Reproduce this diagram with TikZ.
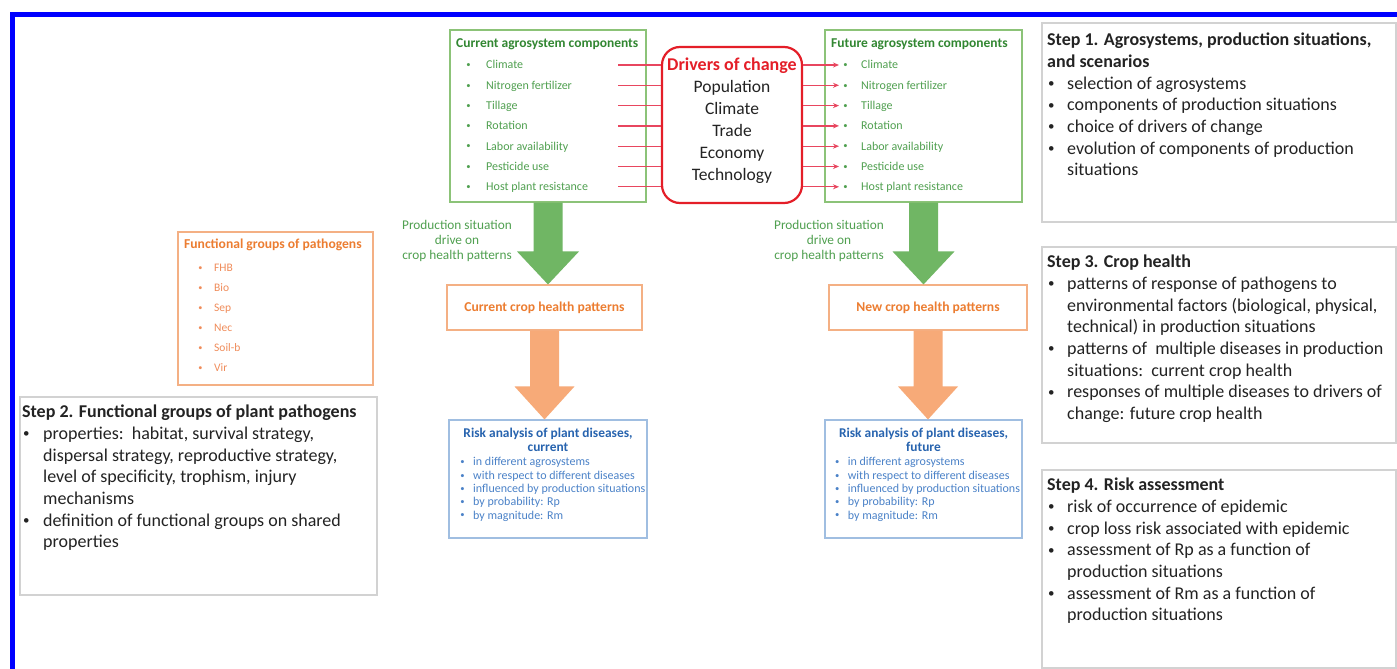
\documentclass[tikz,border=0pt]{standalone}
\usepackage{fontspec}
\setmainfont{Carlito}
\usetikzlibrary{arrows.meta,calc}
\definecolor{gline}{RGB}{140,195,120}
\definecolor{gtitle}{RGB}{50,135,50}
\definecolor{gtext}{RGB}{80,160,80}
\definecolor{garrow}{RGB}{112,182,100}
\definecolor{dred}{RGB}{228,30,40}
\definecolor{rline}{RGB}{232,70,95}
\definecolor{oline}{RGB}{244,176,132}
\definecolor{otext}{RGB}{236,125,49}
\definecolor{oitem}{RGB}{240,140,90}
\definecolor{oarrow}{RGB}{247,170,120}
\definecolor{bline}{RGB}{160,190,225}
\definecolor{btitle}{RGB}{40,100,175}
\definecolor{bitem}{RGB}{75,130,200}
\definecolor{sline}{RGB}{210,210,210}
\definecolor{tblack}{RGB}{35,35,35}
\definecolor{frameblue}{RGB}{0,0,255}
\newlength\bulw
\newcommand\bu{\makebox[\bulw][l]{\hspace*{0.05em}\raisebox{0.09em}{\scalebox{0.72}{\textbullet}}}}
\newcommand\indt{\hspace*{\bulw}}
\newcommand\st{\rule{0pt}{0.8em}}
\newcommand\bigarrow[5]{%
  \coordinate (tip) at (#1.south |- #2.north);
  \fill[#3] ($(#1.south)+(-14.5,0)$) -- ($(#1.south)+(14.5,0)$) -- ($(tip)+(14.5,-#4)$) -- ($(tip)+(#5,-#4)$) -- (tip) -- ($(tip)+(-#5,-#4)$) -- ($(tip)+(-14.5,-#4)$) -- cycle;}
\begin{document}
\begin{tikzpicture}[x=1pt,y=-1pt,
  frame/.style={draw=#1, line width=1.1, fill=white, inner sep=0},
  txt/.style={inner sep=0, align=left, anchor=north west},
  ctxt/.style={inner sep=0, align=center, anchor=north},
  redln/.style={draw=rline, line width=1.3},
  redarr/.style={draw=rline, line width=1.3, -{Stealth[length=6pt,width=5pt]}},
  stepfont/.style={font=\fontsize{18}{21.7}\selectfont\setlength\bulw{20pt}, text=tblack}]
\useasboundingbox (0,0) rectangle (1397,669);
\clip (0,0) rectangle (1397,669);
\fill[white] (0,0) rectangle (1397,669);
% blue frame
\draw[frameblue, line width=5] (12.5,672) -- (12.5,14.5) -- (1400,14.5);

% connector end points
\foreach \i/\yy in {1/65,2/85.3,3/105.6,4/125.9,5/146.2,6/166.5,7/186.8}{
  \coordinate (cl\i) at (618,\yy);
  \coordinate (fr\i) at (839,\yy);
}

% boxes
\node[frame=gline, minimum width=196, minimum height=172] (cur) at (548,116) {};
\node[frame=gline, minimum width=197, minimum height=172] (fut) at (923.5,116) {};
\node[frame=dred, line width=2.2, rounded corners=18, minimum width=140, minimum height=156] (drv) at (732,125) {};
\node[frame=oline, minimum width=195, minimum height=45, font=\fontsize{13.6}{15}\selectfont\bfseries, text=otext] (curch) at (544.5,307.5) {Current crop health patterns};
\node[frame=oline, minimum width=198, minimum height=45, font=\fontsize{13.6}{15}\selectfont\bfseries, text=otext] (newch) at (928,307.5) {New crop health patterns};
\node[frame=bline, minimum width=198, minimum height=118] (riskc) at (548,479) {};
\node[frame=bline, minimum width=197, minimum height=118] (riskf) at (923.5,479) {};
\node[frame=oline, minimum width=195, minimum height=153] (fg) at (275.5,308.5) {};
\node[frame=sline, minimum width=357, minimum height=198] (s2) at (198.5,496) {};
\node[frame=sline, minimum width=354, minimum height=199] (s1) at (1219,122.5) {};
\node[frame=sline, minimum width=354, minimum height=196] (s3) at (1219,345) {};
\node[frame=sline, minimum width=354, minimum height=198] (s4) at (1219,569) {};

\foreach \i in {1,...,7}{
  \draw[redln] (cl\i) -- (cl\i -| drv.west);
  \draw[redarr] (drv.east |- fr\i) -- (fr\i);
}

% current agrosystem components
\node[txt, font=\fontsize{13.5}{15}\selectfont\bfseries, text=gtitle] (curT) at (456,36.2) {\st Current agrosystem components};
\node[txt, font=\fontsize{12}{20.3}\selectfont\setlength\bulw{20.5pt}, text=gtext] (curL) at (465.5,59) {\st\bu Climate\\\bu Nitrogen fertilizer\\\bu Tillage\\\bu Rotation\\\bu Labor availability\\\bu Pesticide use\\\bu Host plant resistance};
% future agrosystem components
\node[txt, font=\fontsize{13.5}{15}\selectfont\bfseries, text=gtitle] (futT) at (831,36.2) {\st Future agrosystem components};
\node[txt, font=\fontsize{12}{20.3}\selectfont\setlength\bulw{18.5pt}, text=gtext] (futL) at (842.5,59) {\st\bu Climate\\\bu Nitrogen fertilizer\\\bu Tillage\\\bu Rotation\\\bu Labor availability\\\bu Pesticide use\\\bu Host plant resistance};
% drivers
\node[ctxt, font=\fontsize{17.5}{22}\selectfont, text=tblack] (drvT) at (732,56) {{\fontsize{18}{22}\selectfont\bfseries\color{dred}\st Drivers of change}\\Population\\Climate\\Trade\\Economy\\Technology};

% production situation labels
\node[ctxt, font=\fontsize{13.3}{15}\selectfont, text=gtext] (psc) at (457,218.3) {\st Production situation\\drive on\\crop health patterns};
\node[ctxt, font=\fontsize{13.3}{15}\selectfont, text=gtext] (psf) at (829,218.3) {\st Production situation\\drive on\\crop health patterns};

% functional groups
\node[txt, font=\fontsize{13.6}{15}\selectfont\bfseries, text=otext] (fgT) at (184,237.1) {\st Functional groups of pathogens};
\node[txt, font=\fontsize{11.5}{20.1}\selectfont\setlength\bulw{16.4pt}, text=oitem] (fgL) at (197.6,261.8) {\st\bu FHB\\\bu Bio\\\bu Sep\\\bu Nec\\\bu Soil-b\\\bu Vir};

% risk analysis
\node[ctxt, font=\fontsize{13.4}{14}\selectfont\bfseries, text=btitle] (rcT) at (548,426.3) {\st Risk analysis of plant diseases,\\current};
\node[txt, font=\fontsize{12}{13.3}\selectfont\setlength\bulw{13.5pt}, text=bitem] (rcL) at (459.5,456) {\st\bu in different agrosystems\\\bu with respect to different diseases\\\bu influenced by production situations\\\bu by probability: Rp\\\bu by magnitude: Rm};
\node[ctxt, font=\fontsize{13.4}{14}\selectfont\bfseries, text=btitle] (rfT) at (923.5,426.3) {\st Risk analysis of plant diseases,\\future};
\node[txt, font=\fontsize{12}{13.3}\selectfont\setlength\bulw{13.4pt}, text=bitem] (rfL) at (834.3,456) {\st\bu in different agrosystems\\\bu with respect to different diseases\\\bu influenced by production situations\\\bu by probability: Rp\\\bu by magnitude: Rm};

% step texts
\node[txt, stepfont] (s1T) at (1047,31) {\st\textbf{Step 1. Agrosystems, production situations,}\\\textbf{and scenarios}\\\bu selection of agrosystems\\\bu components of production situations\\\bu choice of drivers of change\\\bu evolution of components of production\\\indt situations};
\node[txt, stepfont] (s3T) at (1047,253) {\st\textbf{Step 3. Crop health}\\\bu patterns of response of pathogens to\\\indt environmental factors (biological, physical,\\\indt technical) in production situations\\\bu patterns of\ \ multiple diseases in production\\\indt situations:\ \ current crop health\\\bu responses of multiple diseases to drivers of\\\indt change: future crop health};
\node[txt, stepfont] (s4T) at (1047,476) {\st\textbf{Step 4. Risk assessment}\\\bu risk of occurrence of epidemic\\\bu crop loss risk associated with epidemic\\\bu assessment of Rp as a function of\\\indt production situations\\\bu assessment of Rm as a function of\\\indt production situations};
\node[txt, stepfont, font=\fontsize{18}{21.7}\selectfont\setlength\bulw{21pt}] (s2T) at (22,403) {\st\textbf{Step 2. Functional groups of plant pathogens}\\\bu properties:\ \ habitat, survival strategy,\\\indt dispersal strategy, reproductive strategy,\\\indt level of specificity, trophism, injury\\\indt mechanisms\\\bu definition of functional groups on shared\\\indt properties};

% big arrows
\bigarrow{cur}{curch}{garrow}{33}{31}
\bigarrow{fut}{newch}{garrow}{33}{31}
\bigarrow{curch}{riskc}{oarrow}{33}{30}
\bigarrow{newch}{riskf}{oarrow}{33}{30}
\end{tikzpicture}
\end{document}
